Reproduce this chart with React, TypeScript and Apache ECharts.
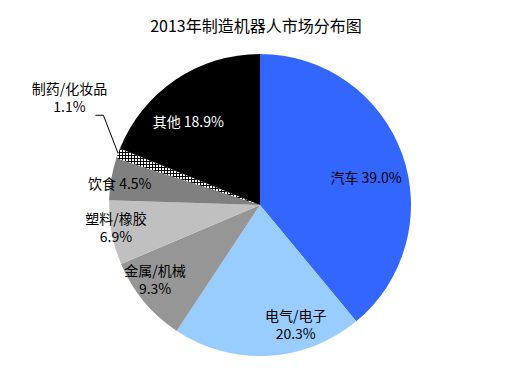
import React, { useEffect, useRef } from "react";
import * as echarts from "echarts";

const title = "2013年制造机器人市场分布图";
const categories = ["汽车", "电气/电子", "金属/机械", "塑料/橡胶", "饮食", "制药/化妆品", "其他"];
const shares = [39.0, 20.3, 9.3, 6.9, 4.5, 1.1, 18.9];

// styling (not data)
const colors = ["#3366FF", "#99CCFF", "#969696", "#C0C0C0", "#808080", "pattern", "#000000"];
const labelColors = ["#000", "#000", "#000", "#000", "#000", "#000", "#fff"];
const twoLine = [false, true, true, true, false, true, false];
// label placement: radius factor (of pie radius) and angle nudge (deg)
const labelRadius = [0.726, 0.82, 0.85, 0.965, 0.94, 1.45, 0.73];
const labelAngleNudge = [5, -13.7, 4.6, 1.9, -1, 9.5, -6.6];

const CX = 260;
const CY = 205;
const R = 151;

function makePattern(): HTMLCanvasElement {
  const c = document.createElement("canvas");
  c.width = 3;
  c.height = 3;
  const ctx = c.getContext("2d")!;
  ctx.fillStyle = "#000";
  ctx.fillRect(0, 0, 3, 3);
  ctx.fillStyle = "#fff";
  ctx.fillRect(0, 0, 2, 2);
  return c;
}

export default function App() {
  const ref = useRef<HTMLDivElement>(null);
  useEffect(() => {
    document.body.style.margin = "0";
    const chart = echarts.init(ref.current!, undefined, { renderer: "svg" });
    const total = shares.reduce((a, b) => a + b, 0);
    const mids: number[] = [];
    let acc = 0;
    shares.forEach((v) => {
      mids.push(((acc + v / 2) / total) * 360);
      acc += v;
    });
    const pattern = makePattern();
    const data = categories.map((name, i) => ({
      name,
      value: shares[i],
      itemStyle: {
        color: colors[i] === "pattern" ? { image: pattern, repeat: "repeat" } : colors[i],
      },
      label: {
        color: labelColors[i],
        position: i === 5 ? "outside" : "inside",
      },
      labelLine: { show: i === 5 },
    }));
    chart.setOption({
      animation: false,
      title: {
        text: title,
        left: 251,
        top: 12,
        textAlign: "center",
        textStyle: {
          fontFamily: "Noto Sans CJK SC",
          fontSize: 16,
          fontWeight: "normal",
          color: "#000",
        },
      },
      series: [
        {
          type: "pie",
          center: [CX, CY],
          radius: R,
          startAngle: 90,
          clockwise: true,
          data,
          silent: true,
          itemStyle: { borderWidth: 0 },
          label: {
            show: true,
            fontFamily: "Noto Sans CJK SC",
            fontSize: 14,
            lineHeight: 18,
            align: "center",
            overflow: "none",
            edgeDistance: 0,
            bleedMargin: 0,
            formatter: (p: any) =>
              p.name + (twoLine[p.dataIndex] ? "\n" : " ") + Number(p.value).toFixed(1) + "%",
          },
          labelLine: {
            lineStyle: { color: "#000", width: 1 },
            smooth: false,
          },
          labelLayout: (p: any) => {
            const i = p.dataIndex;
            const ang = ((mids[i] + labelAngleNudge[i]) * Math.PI) / 180;
            const r = R * labelRadius[i];
            const x = CX + r * Math.sin(ang);
            const y = CY - r * Math.cos(ang);
            const res: any = { x, y, align: "center", verticalAlign: "middle" };
            if (i === 5) {
              const ma = (mids[i] * Math.PI) / 180;
              const p1 = [CX + R * Math.sin(ma), CY - R * Math.cos(ma)];
              const bottom = y + p.labelRect.height / 2;
              const p3 = [x + 26, bottom];
              const p2 = [x + 34, bottom];
              res.labelLinePoints = [p1, p2, p3];
            }
            return res;
          },
        },
      ],
    });
    return () => chart.dispose();
  }, []);
  return (
    <div
      ref={ref}
      style={{ width: 507, height: 369, position: "absolute", left: 0, top: 0 }}
    />
  );
}
